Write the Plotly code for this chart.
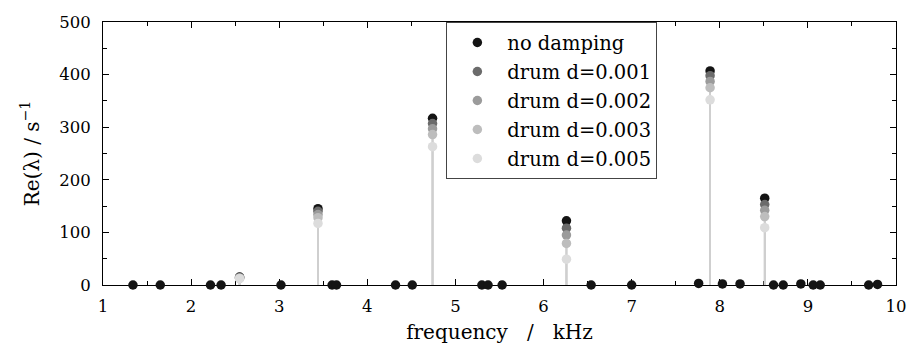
import plotly.graph_objects as go

# Eigenfrequencies (kHz) of the dominant (unstable) modes
peak_freqs = [2.55, 3.44, 4.74, 6.26, 7.89, 8.51]
# Other modes of the undamped system (kHz) and their real parts
other_freqs = [1.34, 1.65, 2.22, 2.34, 3.02, 3.60, 3.65, 4.32, 4.51, 5.30, 5.37,
               5.53, 6.54, 7.00, 7.76, 8.03, 8.23, 8.61, 8.72, 8.92, 9.06, 9.14,
               9.69, 9.79]
other_vals = [0, 0, 0, 0, 0, 0, 0, 0, 0, 0, 0,
              0, 0, 0, 3, 2, 2, 0, 0, 2, 0, 0,
              0, 1]

# Real parts Re(lambda) in 1/s at the peak frequencies
no_damping = [15, 145, 317, 122, 407, 165]
drum_d0001 = [14, 140, 307, 108, 398, 153]
drum_d0002 = [13, 134, 297, 95, 387, 142]
drum_d0003 = [13, 128, 286, 79, 375, 130]
drum_d0005 = [12, 117, 263, 49, 352, 109]

series_names = ["no damping", "drum d=0.001", "drum d=0.002", "drum d=0.003", "drum d=0.005"]
colors = ["#141414", "#6b6b6b", "#9b9b9b", "#bdbdbd", "#dcdcdc"]
stem_color = "#cfcfcf"

x_ticks = list(range(1, 11))
y_ticks = [0, 100, 200, 300, 400, 500]

FONT = "DejaVu Serif"
NB = "\u00a0"

series = [
    (peak_freqs + other_freqs, no_damping + other_vals),
    (peak_freqs, drum_d0001),
    (peak_freqs, drum_d0002),
    (peak_freqs, drum_d0003),
    (peak_freqs, drum_d0005),
]

fig = go.Figure()
# stems first (all in one light colour; upper parts are hidden behind the dots)
for (xs, ys) in series:
    sx, sy = [], []
    for xv, yv in zip(xs, ys):
        sx += [xv, xv, None]
        sy += [0, yv, None]
    fig.add_trace(go.Scatter(x=sx, y=sy, mode="lines", line=dict(color=stem_color, width=1.6),
                             showlegend=False, hoverinfo="skip", cliponaxis=False))
for (xs, ys), name, col in zip(series, series_names, colors):
    fig.add_trace(go.Scatter(x=xs, y=ys, mode="markers",
                             name='<span style="font-size:19.5px">' + name + "</span>",
                             marker=dict(color=col, size=9.5, line=dict(width=0)),
                             cliponaxis=False))

axis_common = dict(
    showgrid=False, zeroline=False, showline=True, linecolor="#000", linewidth=1,
    mirror="ticks", ticks="inside", ticklen=6, tickwidth=1, tickcolor="#000",
    layer="below traces",
    tickfont=dict(family=FONT, size=16.5, color="#000"),
)

fig.update_xaxes(range=[1, 10], tickvals=x_ticks, ticktext=[str(t) for t in x_ticks],
                 minor=dict(dtick=0.5, ticks="inside", ticklen=4, tickcolor="#000", showgrid=False),
                 ticklabelstandoff=6,
                 title=dict(text="frequency" + NB * 3 + "/" + NB * 3 + "kHz",
                            font=dict(family=FONT, size=20, color="#000"), standoff=10),
                 **axis_common)
fig.update_yaxes(range=[0, 500], tickvals=y_ticks, ticktext=[str(t) for t in y_ticks],
                 minor=dict(dtick=50, ticks="inside", ticklen=4, tickcolor="#000", showgrid=False),
                 ticklabelstandoff=8,
                 title=dict(text="Re(λ) / s<sup>−1</sup>",
                            font=dict(family=FONT, size=20, color="#000"), standoff=14),
                 **axis_common)

fig.update_layout(
    width=919, height=353,
    margin=dict(l=103, r=12, t=22, b=68),
    paper_bgcolor="white", plot_bgcolor="white",
    showlegend=True,
    legend=dict(x=0.433, y=1, xanchor="left", yanchor="top",
                bgcolor="white", bordercolor="#444", borderwidth=1,
                font=dict(family=FONT, size=20, color="#000"),
                tracegroupgap=0, itemwidth=50),
)

fig.write_html("out.html")
